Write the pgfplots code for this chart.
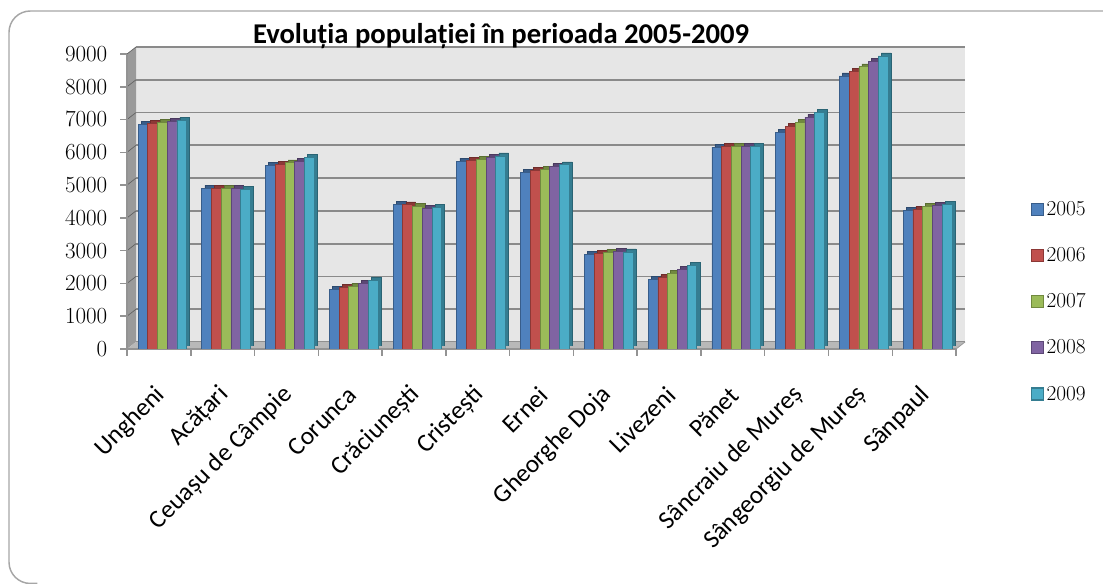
\documentclass[border=0pt]{standalone}
\usepackage{pgfplots}
\pgfplotsset{compat=1.18}
\usepackage{pgfplotstable}
\usepackage{fontspec}
\newfontfamily\carlito{Carlito}
\definecolor{c1}{HTML}{4F81BD}
\definecolor{c2}{HTML}{C0504D}
\definecolor{c3}{HTML}{9BBB59}
\definecolor{c4}{HTML}{8064A2}
\definecolor{c5}{HTML}{4BACC6}
\definecolor{d1}{HTML}{385D8A}
\definecolor{d2}{HTML}{8C3836}
\definecolor{d3}{HTML}{71893F}
\definecolor{d4}{HTML}{5C4776}
\definecolor{d5}{HTML}{357D91}
\definecolor{gridc}{HTML}{8A8A8A}
\definecolor{wallc}{HTML}{E6E6E6}
\definecolor{sidec}{HTML}{9A9A9A}
\definecolor{floorc}{HTML}{B8B8B8}

\pgfplotstableread{
x  a    b    c    d    e
0  6850 6880 6920 6950 6980
1  4900 4900 4900 4900 4880
2  5610 5635 5680 5735 5855
3  1830 1870 1920 2005 2105
4  4420 4400 4340 4300 4310
5  5735 5765 5795 5850 5890
6  5400 5460 5490 5560 5620
7  2890 2920 2950 2970 2960
8  2125 2175 2310 2440 2555
9  6160 6180 6180 6185 6170
10 6610 6800 6905 7070 7210
11 8330 8480 8610 8785 8940
12 4220 4260 4340 4390 4415
}\pop

\pgfplotsset{
  base/.style={
    scale only axis, width=621.75pt, height=221.25pt,
    xmin=-0.5, xmax=12.5, ymin=0, ymax=9000,
    anchor=south west,
  },
}

\begin{document}
\begin{tikzpicture}
\useasboundingbox (0,0) rectangle (827.25pt,438pt);
% frame
\draw[gray!70, line width=1.1pt, rounded corners=16pt] (28pt,0.4pt) -- (6.75pt,0.4pt) -- (6.75pt,429.75pt) -- (840pt,429.75pt);

% back wall
\begin{axis}[base, at={(102pt,181.5pt)},
  axis background/.style={fill=wallc},
  axis line style={draw=none},
  xtick=\empty, ytick={0,1000,...,9000}, yticklabels={},
  major tick length=0pt,
  ymajorgrids, grid style={draw=gridc, line width=1.4pt}]
\end{axis}

% side wall and floor
\fill[sidec] (95.25pt,176.25pt) -- (95.25pt,397.5pt) -- (102pt,402.75pt) -- (102pt,181.5pt) -- cycle;
\foreach \k in {1,...,9}{
  \draw[gray!75!black, line width=0.5pt] (95.25pt,{176.25pt+\k*24.5833pt}) -- (102pt,{181.5pt+\k*24.5833pt});
}
\fill[floorc] (95.25pt,176.25pt) -- (717pt,176.25pt) -- (723.75pt,181.5pt) -- (102pt,181.5pt) -- cycle;
\draw[gray!80, line width=0.6pt] (717pt,176.25pt) -- (723.75pt,181.5pt);

% depth (shadow) bars
\begin{axis}[base, at={(97.5pt,178.5pt)}, hide axis, ybar, bar width=7.3pt]
\addplot[fill=d1, draw=d1!80!black, bar shift=-12.0pt] table[x=x,y=a] {\pop};
\addplot[fill=d2, draw=d2!80!black, bar shift=-4.7pt] table[x=x,y=b] {\pop};
\addplot[fill=d3, draw=d3!80!black, bar shift=2.6pt] table[x=x,y=c] {\pop};
\addplot[fill=d4, draw=d4!80!black, bar shift=9.9pt] table[x=x,y=d] {\pop};
\addplot[fill=d5, draw=d5!80!black, bar shift=17.2pt] table[x=x,y=e] {\pop};
\end{axis}

% front bars
\begin{axis}[base, at={(95.25pt,176.25pt)},
  ybar, bar width=7.3pt,
  axis lines*=left,
  axis line style={draw=gray!85, line width=1.1pt},
  tick align=outside, major tick length=5.25pt,
  tick style={draw=gray!85, line width=1.1pt},
  ytick={0,1000,...,9000},
  /pgf/number format/1000 sep={},
  yticklabel style={font=\fontsize{17.5}{20}\selectfont, xshift=-6pt},
  xtick={-0.5,0.5,...,12.5},
  x tick label as interval,
  xticklabels={Ungheni, Acățari, Ceuașu de Câmpie, Corunca, Crăciunești, Cristești, Ernei, Gheorghe Doja, Livezeni, Pănet, Sâncraiu de Mureș, Sângeorgiu de Mureș, Sânpaul},
  xticklabel style={font=\carlito\fontsize{19}{22}\selectfont, xshift=4pt, yshift=-24pt, rotate=45, anchor=east},
  legend style={draw=none, fill=none, at={(1.085,0.52)}, anchor=north west,
    font=\fontsize{16}{19}\selectfont, row sep=18.5pt},
  legend cell align=left,
  legend image code/.code={\draw[#1, line width=0.9pt, bar shift=0pt] (0pt,-4.5pt) rectangle (9pt,4.5pt);},
]
\addplot[fill=c1, draw=d1, line width=0.6pt, bar shift=-12.0pt] table[x=x,y=a] {\pop};
\addplot[fill=c2, draw=d2, line width=0.6pt, bar shift=-4.7pt] table[x=x,y=b] {\pop};
\addplot[fill=c3, draw=d3, line width=0.6pt, bar shift=2.6pt] table[x=x,y=c] {\pop};
\addplot[fill=c4, draw=d4, line width=0.6pt, bar shift=9.9pt] table[x=x,y=d] {\pop};
\addplot[fill=c5, draw=d5, line width=0.6pt, bar shift=17.2pt] table[x=x,y=e] {\pop};
\legend{2005,2006,2007,2008,2009}
\end{axis}

\node[anchor=base, font=\carlito\bfseries\fontsize{21.5}{25}\selectfont] at (375.75pt,405pt) {Evoluția populației în perioada 2005-2009};
\end{tikzpicture}
\end{document}
